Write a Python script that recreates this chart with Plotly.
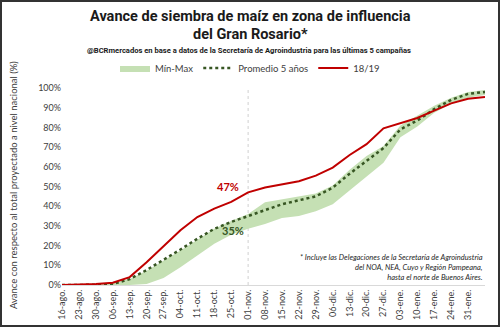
import plotly.graph_objects as go

# ---- data ----
dates = ["16-ago.", "23-ago.", "30-ago.", "06-sep.", "13-sep.", "20-sep.", "27-sep.",
         "04-oct.", "11-oct.", "18-oct.", "25-oct.", "01-nov.", "08-nov.", "15-nov.",
         "22-nov.", "29-nov.", "06-dic.", "13-dic.", "20-dic.", "27-dic.", "03-ene.",
         "10-ene.", "17-ene.", "24-ene.", "31-ene.", "07-feb."]
tick_labels = dates[:-1]

campaign_1819 = [0, 0.2, 0.5, 1.2, 4, 11.5, 19.8, 27.8, 34.5, 38.8, 42.2, 47, 49.5, 51,
                 52.7, 55.5, 59.6, 66, 71.5, 79.5, 82, 84.8, 88.5, 92.2, 94.5, 95.4]
avg_5y = [0, 0, 0.1, 0.5, 3, 7.6, 12.7, 18, 23.5, 28.5, 32, 35, 38.4, 41, 43, 45,
          49.4, 56.5, 63, 69.5, 79, 83.5, 89.3, 94, 97, 98]
max_5y = [0, 0, 0.2, 1, 3, 7.2, 12.3, 17.5, 23, 28.5, 32.5, 36, 42, 43.5, 45, 46.5,
          50.5, 58.5, 65.5, 70.5, 81, 86, 91, 95, 98, 99]
min_5y = [0, 0, 0, 0, 0, 0.5, 3.5, 9, 15, 21, 25.5, 28.5, 31, 34, 35, 37.5, 41, 48,
          55, 62, 75, 80.5, 87.5, 92, 95, 96.5]

highlight = "01-nov."
hi = dates.index(highlight)
x = list(range(len(dates)))

RED = "#c00000"
DKGREEN = "#375623"
BAND = "#c5e0b4"

fig = go.Figure()
fig.add_trace(go.Scatter(x=x, y=min_5y, mode="lines", line=dict(width=0, color=BAND),
                         showlegend=False, hoverinfo="skip"))
fig.add_trace(go.Scatter(x=x, y=max_5y, mode="lines", line=dict(width=0, color=BAND),
                         fill="tonexty", fillcolor=BAND, name="Mín-Max"))
fig.add_trace(go.Scatter(x=x, y=avg_5y, mode="lines",
                         line=dict(color=DKGREEN, width=2.5, dash="dot"),
                         name="Promedio 5 años"))
fig.add_trace(go.Scatter(x=x, y=campaign_1819, mode="lines",
                         line=dict(color=RED, width=2), name="18/19"))

L, R, T, B = 62, 15, 88, 42
W, H = 500, 327
pw, ph = W - L - R, H - T - B


def px(xp):
    return (xp - L) / pw


def py(yp):
    return (H - B - yp) / ph


fig.add_shape(type="line", xref="x", yref="paper", x0=hi, x1=hi, y0=0, y1=1,
              line=dict(color="#d0d0d0", width=1, dash="dot"), layer="below")
fig.add_shape(type="rect", xref="paper", yref="paper", x0=px(1), x1=px(499),
              y0=py(326), y1=py(1), line=dict(color="#333333", width=2))

title_font = "Roboto, Liberation Sans, sans-serif"
ann = [
    dict(text="<b>Avance de siembra de maíz en zona de influencia</b>", x=px(250), y=py(17),
         font=dict(family=title_font, size=14.5, color="#1a1a1a")),
    dict(text="<b>del Gran Rosario*</b>", x=px(250), y=py(35),
         font=dict(family=title_font, size=14.5, color="#1a1a1a")),
    dict(text="<b>@BCRmercados en base a datos de la Secretaría de Agroindustria para las últimas 5 campañas</b>",
         x=px(249), y=py(50), font=dict(family=title_font, size=7.6, color="#1a1a1a")),
    dict(text="Avance con respecto al total proyectado a nivel nacional (%)", x=px(13), y=py(185),
         textangle=-90, font=dict(family="Lato", size=9.5, color="#404040")),
    dict(text="<i>* Incluye las Delegaciones de la Secretaría de Agroindustria<br>del NOA, NEA, Cuyo y Región Pampeana,<br>hasta el norte de Buenos Aires.</i>",
         x=px(485), y=py(267), xanchor="right", align="right",
         font=dict(family="Lato", size=7.5, color="#262626")),
]
for a in ann:
    a.setdefault("xref", "paper")
    a.setdefault("yref", "paper")
    a.setdefault("showarrow", False)
    a.setdefault("xanchor", "center")
    a.setdefault("yanchor", "middle")
    fig.add_annotation(**a)

fig.add_annotation(x=hi, y=campaign_1819[hi], text=f"<b>{campaign_1819[hi]:.0f}%</b>",
                   showarrow=False, xshift=-20, yshift=6,
                   font=dict(family="Lato", size=11, color=RED))
fig.add_annotation(x=hi, y=avg_5y[hi], text=f"<b>{avg_5y[hi]:.0f}%</b>",
                   showarrow=False, xshift=-15, yshift=-14,
                   font=dict(family="Lato", size=11, color=DKGREEN))

fig.update_layout(
    width=W, height=H, margin=dict(l=L, r=R, t=T, b=B, autoexpand=False),
    paper_bgcolor="white", plot_bgcolor="white",
    font=dict(family="Lato", size=9, color="#404040"),
    legend=dict(orientation="h", x=px(250), y=py(68), xanchor="center", yanchor="middle",
                traceorder="normal",
                font=dict(family="Lato", size=9.5, color="#404040"), itemwidth=30,
                bgcolor="rgba(0,0,0,0)"),
    xaxis=dict(range=[0, len(dates) - 1], tickvals=list(range(len(tick_labels))),
               ticktext=tick_labels, tickangle=-90, showgrid=False, zeroline=False,
               showline=True, linecolor="#d9d9d9", linewidth=1, ticks="", automargin=False,
               tickfont=dict(family="Lato", size=9, color="#404040")),
    yaxis=dict(range=[0, 100], dtick=10, ticksuffix="%", showgrid=False, zeroline=False,
               showline=False, ticks="", automargin=False,
               tickfont=dict(family="Lato", size=9, color="#404040")),
)

fig.write_html("out.html")
